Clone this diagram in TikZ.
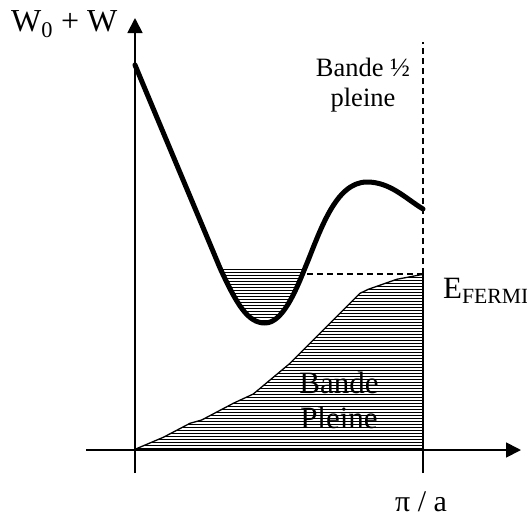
\documentclass[tikz,border=0pt]{standalone}
\usepackage{fontspec}
\setmainfont{Liberation Serif}
\usetikzlibrary{arrows.meta}
\begin{document}
\begin{tikzpicture}[x=1pt,y=-1pt,
 axis/.style={line width=1.8pt},
 bandcurve/.style={line width=5pt,line cap=round,line join=round},
 hatchline/.style={line width=1.9pt,black},
 dashline/.style={line width=1.6pt,dash pattern=on 6pt off 4pt},
 lbl/.style={inner sep=0pt,anchor=base},
 axtip/.style={-{Triangle[width=15pt,length=15pt]}}]
\useasboundingbox (0,0) rectangle (527,517);
% coordinates
\coordinate (yb) at (135,473);
\coordinate (yt) at (135,18);
\coordinate (xl) at (86,450);
\coordinate (xr) at (521,450);
\coordinate (rb) at (423,473);
\coordinate (ef) at (423,274);
\coordinate (rt) at (423,42);
\coordinate (wl) at (307,274);
% well filling
\begin{scope}
\clip (0,268) rectangle (527,517);
\clip (135,65) .. controls (165,137) and (205,232) .. (220,268)
  .. controls (237,305) and (248,323) .. (265,323)
  .. controls (282,323) and (295,293) .. (305,268)
  .. controls (320,232) and (335,182) .. (367,182)
  .. controls (390,182) and (405,198) .. (423,209) -- cycle;
\foreach \yy in {269.5,272.5,...,330} \draw[hatchline] (200,\yy) -- (320,\yy);
\end{scope}
% full band
\begin{scope}
\clip (135,449.3) -- (163.3,437.3) -- (190,423.3) -- (201.7,420)
  -- (233.3,403.3) -- (253.3,394) -- (290,363.3) -- (360,293.3) -- (368.3,289.3)
  -- (396.7,279.3) -- (423.3,274.3) -- (423.3,450) -- cycle;
\foreach \yy in {274.5,277.5,...,451} \draw[hatchline] (130,\yy) -- (430,\yy);
\end{scope}
\draw[line width=1.3pt,line join=round] (135,449.3) -- (163.3,437.3) -- (190,423.3) -- (201.7,420)
  -- (233.3,403.3) -- (253.3,394) -- (290,363.3) -- (360,293.3) -- (368.3,289.3)
  -- (396.7,279.3) -- (423.3,274.3);
\node[lbl] (bp1) at (339,393) {\fontsize{31}{31}\selectfont Bande};
\node[lbl] (bp2) at (339,428) {\fontsize{31}{31}\selectfont Pleine};
% axes
\draw[axis,axtip] (yb) -- (yt);
\draw[axis,axtip] (xl) -- (xr);
\draw[axis] (rb) -- (ef);
\draw[dashline] (ef) -- (rt);
\draw[dashline] (wl) -- (ef);
% band curve
\draw[bandcurve] (135,65) .. controls (165,137) and (205,232) .. (220,268)
  .. controls (237,305) and (248,323) .. (265,323)
  .. controls (282,323) and (295,293) .. (305,268)
  .. controls (320,232) and (335,182) .. (367,182)
  .. controls (390,182) and (405,198) .. (423,209);
% labels
\node[lbl,anchor=base west] (wlab) at (11,31) {\fontsize{32}{32}\selectfont W\textsubscript{0} + W};
\node[lbl] (bh1) at (363,76) {\fontsize{26.5}{26.5}\selectfont Bande ½};
\node[lbl] (bh2) at (363,106) {\fontsize{26.5}{26.5}\selectfont pleine};
\node[lbl,anchor=base west] (efl) at (443,298) {\fontsize{31}{31}\selectfont E\textsubscript{FERMI}};
\node[lbl,anchor=base west] (pa) at (395,511) {\fontsize{30}{30}\selectfont π / a};
\end{tikzpicture}
\end{document}
